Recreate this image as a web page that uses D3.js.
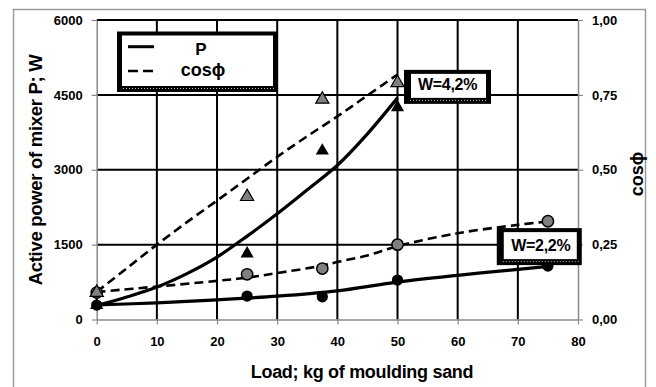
<!DOCTYPE html>
<html>
<head>
<meta charset="utf-8">
<script src="https://cdn.jsdelivr.net/npm/d3@7"></script>
<style>
  body { margin: 0; background: #fff; }
  text { font-family: "Liberation Sans", Arial, sans-serif; font-weight: bold; }
</style>
</head>
<body>
<div id="chart"></div>
<script>
// measured points, W = 4,2 %
var loads42 = [0, 25, 37.5, 50],
    power42 = [285, 1320, 3380, 4250],
    cos42 = [0.09, 0.41, 0.735, 0.79];

// measured points, W = 2,2 %
var loads22 = [0, 25, 37.5, 50, 75],
    power22 = [290, 470, 455, 790, 1070],
    cos22 = [0.09, 0.151, 0.17, 0.25, 0.328];

// trend lines
var trendLoads42 = [0, 5, 10, 15, 20, 25, 30, 35, 40, 45, 50],
    trendPower42 = [280, 450, 650, 920, 1250, 1670, 2120, 2600, 3090, 3720, 4440],
    trendCos42 = [0.092, 0.171, 0.25, 0.325, 0.397, 0.47, 0.543, 0.612, 0.678, 0.748, 0.818];

var trendLoads22p = [0, 10, 20, 30, 40, 50, 60, 70, 75],
    trendPower22 = [290, 335, 395, 468, 575, 750, 885, 1005, 1065];

var trendLoads22c = [0, 10, 20, 25, 30, 37.5, 40, 45, 50, 60, 70, 75],
    trendCos22 = [0.092, 0.11, 0.129, 0.14, 0.155, 0.18, 0.192, 0.214, 0.245, 0.288, 0.316, 0.327];

var xTicks = [0, 10, 20, 30, 40, 50, 60, 70, 80],
    powerTicks = [0, 1500, 3000, 4500, 6000],
    cosTicks = [0, 0.25, 0.5, 0.75, 1];

var width = 656, height = 387;

var svg = d3.select("#chart").append("svg")
    .attr("width", width).attr("height", height);

// outer frame
svg.append("rect")
    .attr("x", 13.5).attr("y", 9.5)
    .attr("width", 632).attr("height", 390)
    .attr("fill", "none").attr("stroke", "#9a9a9a").attr("stroke-width", 1.5);

var x = d3.scaleLinear().domain([0, 80]).range([96.7, 578]),
    yP = d3.scaleLinear().domain([0, 6000]).range([319.5, 20]),
    yC = d3.scaleLinear().domain([0, 1]).range([319.5, 20]);

// grid
var grid = svg.append("g");
grid.selectAll(".vg").data(xTicks.slice(1, -1)).enter().append("line")
    .attr("x1", d => x(d)).attr("x2", d => x(d))
    .attr("y1", yP(0)).attr("y2", yP(6000))
    .attr("stroke", "#000").attr("stroke-width", 2);
grid.selectAll(".hg").data(powerTicks.slice(1)).enter().append("line")
    .attr("x1", x(0)).attr("x2", x(80))
    .attr("y1", d => yP(d)).attr("y2", d => yP(d))
    .attr("stroke", "#000").attr("stroke-width", 2);

// axes
function styleAxis(g) {
    g.select(".domain").attr("stroke", "#8a8a8a").attr("stroke-width", 1.5);
    g.selectAll(".tick line").attr("stroke", "#8a8a8a").attr("stroke-width", 1.2);
    g.selectAll(".tick text").attr("fill", "#000")
        .style("font-family", "'Liberation Sans', Arial, sans-serif")
        .style("font-weight", "bold").style("font-size", "13px");
}

svg.append("g")
    .attr("transform", "translate(0," + yP(0) + ")")
    .call(d3.axisBottom(x).tickValues(xTicks).tickSize(5).tickSizeOuter(0).tickPadding(12))
    .call(styleAxis);

svg.append("g")
    .attr("transform", "translate(" + x(0) + ",0)")
    .call(d3.axisLeft(yP).tickValues(powerTicks).tickSize(5).tickSizeOuter(0).tickPadding(9)
        .tickFormat(d3.format("d")))
    .call(styleAxis);

svg.append("g")
    .attr("transform", "translate(" + x(80) + ",0)")
    .call(d3.axisRight(yC).tickValues(cosTicks).tickSize(5).tickSizeOuter(0).tickPadding(9)
        .tickFormat(d => d3.format(".2f")(d).replace(".", ",")))
    .call(styleAxis);

// axis titles
svg.append("text")
    .attr("transform", "translate(42,170) rotate(-90)")
    .attr("text-anchor", "middle").style("font-size", "18.5px").style("letter-spacing", "-0.3px")
    .text("Active power of mixer P; W");

svg.append("text")
    .attr("x", 362).attr("y", 378)
    .attr("text-anchor", "middle").style("font-size", "18px").style("letter-spacing", "-0.3px")
    .text("Load; kg of moulding sand");

svg.append("text")
    .attr("transform", "translate(643,174) rotate(-90)")
    .attr("text-anchor", "middle").style("font-size", "18px")
    .text("cosϕ");

// trend lines
var lineP = d3.line().x(d => x(d[0])).y(d => yP(d[1])).curve(d3.curveCatmullRom),
    lineC = d3.line().x(d => x(d[0])).y(d => yC(d[1])).curve(d3.curveCatmullRom);

function pairs(a, b) { return a.map((v, i) => [v, b[i]]); }

var lines = svg.append("g").attr("fill", "none").attr("stroke", "#000");
lines.append("path").attr("d", lineP(pairs(trendLoads42, trendPower42))).attr("stroke-width", 3.2);
lines.append("path").attr("d", lineP(pairs(trendLoads22p, trendPower22))).attr("stroke-width", 3.2);
lines.append("path").attr("d", lineC(pairs(trendLoads42, trendCos42)))
    .attr("stroke-width", 2.6).attr("stroke-dasharray", "9,5");
lines.append("path").attr("d", lineC(pairs(trendLoads22c, trendCos22)))
    .attr("stroke-width", 2.6).attr("stroke-dasharray", "9,5");

// markers
var circle = d3.symbol().type(d3.symbolCircle).size(100),
    tri = d3.symbol().type(d3.symbolTriangle).size(75);

var marks = svg.append("g");
marks.selectAll(".c22").data(pairs(loads22, cos22)).enter().append("path")
    .attr("d", circle).attr("transform", d => "translate(" + x(d[0]) + "," + yC(d[1]) + ")")
    .attr("fill", "#808080").attr("stroke", "#000").attr("stroke-width", 1.5);
marks.selectAll(".p22").data(pairs(loads22, power22)).enter().append("path")
    .attr("d", circle).attr("transform", d => "translate(" + x(d[0]) + "," + yP(d[1]) + ")")
    .attr("fill", "#000");
marks.selectAll(".c42").data(pairs(loads42, cos42)).enter().append("path")
    .attr("d", tri).attr("transform", d => "translate(" + x(d[0]) + "," + yC(d[1]) + ")")
    .attr("fill", "#808080").attr("stroke", "#000").attr("stroke-width", 1.2);
marks.selectAll(".p42").data(pairs(loads42, power42)).enter().append("path")
    .attr("d", tri).attr("transform", d => "translate(" + x(d[0]) + "," + yP(d[1]) + ")")
    .attr("fill", "#000");

// framed boxes with a dotted shadow edge
function framedBox(x0, y0, w, h, left) {
    var g = svg.append("g");
    g.append("rect").attr("x", x0).attr("y", y0).attr("width", w).attr("height", h).attr("fill", "#000");
    g.append("rect").attr("x", x0 + left).attr("y", y0 + 4).attr("width", w - left - 5).attr("height", h - 10).attr("fill", "#fff");
    g.append("line").attr("x1", x0 + 6).attr("x2", x0 + w - 3)
        .attr("y1", y0 + h - 3.5).attr("y2", y0 + h - 3.5)
        .attr("stroke", "#bbb").attr("stroke-width", 1).attr("stroke-dasharray", "1,2");
    return g;
}

// legend
var legend = framedBox(117, 31.5, 161, 60.5, 5);
legend.append("line").attr("x1", 128).attr("x2", 154).attr("y1", 46.7).attr("y2", 46.7)
    .attr("stroke", "#000").attr("stroke-width", 3);
legend.append("line").attr("x1", 128).attr("x2", 157).attr("y1", 71).attr("y2", 71)
    .attr("stroke", "#000").attr("stroke-width", 2.5).attr("stroke-dasharray", "10,5");
legend.append("text").attr("x", 201).attr("y", 55).attr("text-anchor", "middle")
    .style("font-size", "17px").text("P");
legend.append("text").attr("x", 203).attr("y", 76).attr("text-anchor", "middle")
    .style("font-size", "18px").text("cosϕ");

// series labels
var b1 = framedBox(x(50) + 6.5, yP(4500) - 25, 87, 34, 7);
b1.append("text").attr("x", x(50) + 50).attr("y", yP(4500) - 5).attr("text-anchor", "middle")
    .style("font-size", "16px").style("letter-spacing", "-0.3px").text("W=4,2%");

var b2 = framedBox(x(66.5), yC(0.25) - 16.5, 85, 37, 7);
b2.append("text").attr("x", x(66.5) + 44).attr("y", yC(0.25) + 6).attr("text-anchor", "middle")
    .style("font-size", "16px").style("letter-spacing", "-0.3px").text("W=2,2%");
</script>
</body>
</html>
